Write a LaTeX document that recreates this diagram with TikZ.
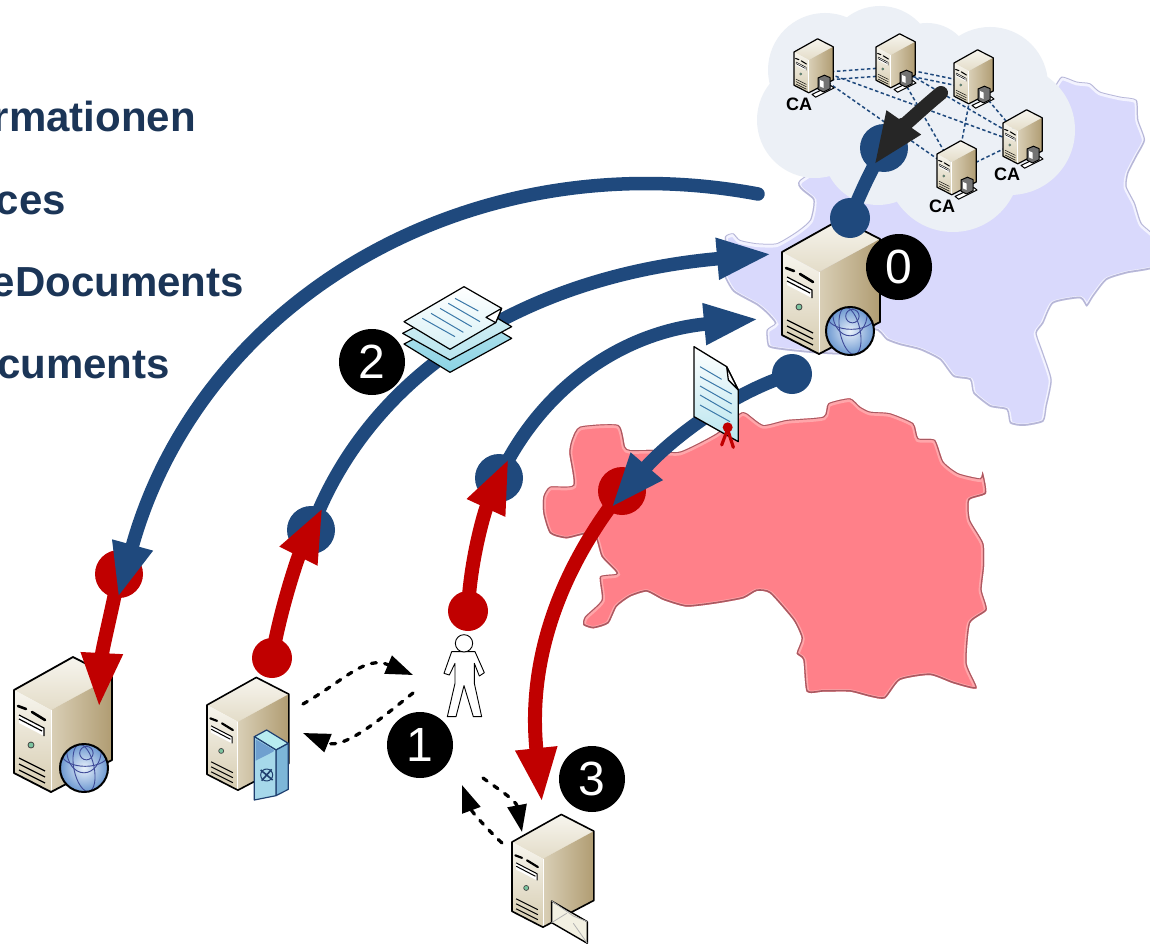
\documentclass[tikz,border=0pt]{standalone}
\usepackage{fontspec}
\setmainfont{Liberation Sans}
\usetikzlibrary{arrows.meta,calc,shapes.geometric}
\definecolor{navy}{HTML}{1F497D}
\definecolor{rd}{HTML}{C00000}
\definecolor{txt}{HTML}{1B3557}
\definecolor{lav}{HTML}{D9D9FC}
\definecolor{lavhi}{HTML}{F3F3FF}
\definecolor{lavlo}{HTML}{A0A0BE}
\definecolor{pnk}{HTML}{FF8089}
\definecolor{pnkhi}{HTML}{FFA6AA}
\definecolor{pnklo}{HTML}{A85A62}
\definecolor{cld}{HTML}{ECF0F6}
\definecolor{dark}{HTML}{262626}
\definecolor{tlight}{HTML}{F7F5EE}
\definecolor{tmid}{HTML}{E3DCC8}
\definecolor{lface}{HTML}{D6CCB0}
\definecolor{rfacea}{HTML}{D9CFB6}
\definecolor{rfaceb}{HTML}{E9E2D0}
\definecolor{rfacec}{HTML}{B09C72}
\definecolor{ledg}{HTML}{7CC4A0}
\definecolor{ballin}{HTML}{E9F1FB}
\definecolor{ballout}{HTML}{6B97D0}
\definecolor{ballln}{HTML}{3E4A98}
\definecolor{safet}{HTML}{B8ECF0}
\definecolor{safef}{HTML}{A6D8EA}
\definecolor{safes}{HTML}{7DB6D8}
\definecolor{safei}{HTML}{6F9FCF}
\definecolor{safeln}{HTML}{1F3F6F}
\definecolor{shta}{HTML}{B9E5EE}
\definecolor{shtb}{HTML}{8BD3E4}
\definecolor{shtc}{HTML}{D8F1F6}
\definecolor{docln}{HTML}{3B78A8}
\definecolor{envf}{HTML}{F2F0E2}
\tikzset{
  bdot/.style={circle,fill=navy,inner sep=0pt,draw=none},
  rdot/.style={circle,fill=rd,inner sep=0pt,draw=none},
  numdot/.style={circle,fill=black,text=white,inner sep=0pt,minimum size=66pt,font=\fontsize{48}{48}\selectfont},
  barc/.style={draw=navy,line width=13.5pt},
  rarc/.style={draw=rd,line width=14pt},
  bhead/.style={-{Triangle[width=38pt,length=55pt]}},
  dasharrow/.style={draw=black,line width=3.3pt,dash pattern=on 5pt off 8.3pt,line cap=round,-{Triangle[width=19pt,length=27pt]}},
  calink/.style={draw=navy,line width=1.5pt,dash pattern=on 3.5pt off 2.5pt},
  calabel/.style={font=\fontsize{18}{18}\selectfont\bfseries,text=black,inner sep=0pt},
  heading/.style={anchor=base east,font=\fontsize{42}{42}\selectfont\bfseries,text=txt,inner sep=0pt},
}
% server tower: #1 name, #2 x, #3 y, #4 scale, #5 line width
\newcommand{\towerbox}[5]{%
\begin{scope}[shift={(#2,#3)},scale=#4,line width=#5pt,line join=round]
  \coordinate (#1) at (48,35);
  \shade[top color=tlight,bottom color=tmid]
    (0,0)--(59,-33)--(98,-13)--(37,20)--cycle;
  \shade[top color=tlight,bottom color=lface] (0,0)--(37,20)--(37,102)--(0,83)--cycle;
  \shade[left color=rfacea,middle color=rfaceb,right color=rfacec] (37,20)--(98,-13)--(98,70)--(37,102)--cycle;
  \draw[white,line width=0.8pt] (37,20)--(37,102);
  \draw[black] (0,0)--(59,-33)--(98,-13)--(98,70)--(37,102)--(0,83)--cycle;
  \draw[black,line width=2.6*#4 pt,line cap=round] (4,16)--(12,19);
  \draw[black,line width=2.6*#4 pt,line cap=round] (18,22)--(31,30);
  \fill[white] (5,25)--(30,38)--(30,46)--(5,33)--cycle;
  \draw[black,line width=1.2*#4 pt] (5,25)--(30,38)--(30,46);
  \draw[black,line width=1.2*#4 pt] (5,29)--(28,41);
  \draw[black!75,fill=ledg,line width=0.8*#4 pt] (17,55) circle (3);
  \draw[black,line width=1.2*#4 pt] (5,68)--(31,81) (5,74)--(31,87) (5,80)--(31,93);
\end{scope}}
% globe
\newcommand{\worldball}[4]{%
\begin{scope}[shift={(#1,#2)},scale=#3]
  \shade[inner color=ballin,outer color=ballout] (0,0) circle (1);
  \begin{scope}
    \clip (0,0) circle (1);
    \draw[ballln,line width=0.9pt] (0.1,-0.62) circle (0.28);
    \draw[ballln,line width=0.9pt,rotate=12] (0,0) ellipse (0.42 and 1);
    \draw[ballln,line width=0.9pt] (0.05,-0.62) ellipse (1 and 0.55);
    \draw[ballln,line width=0.9pt] (0,-0.75) ellipse (0.72 and 0.95);
  \end{scope}
  \draw[black,line width=2pt] (0,0) circle (1);
\end{scope}}
% little workstation of a CA server
\newcommand{\workstation}[2]{%
\begin{scope}[shift={(#1,#2)},scale=0.4,line width=1pt,line join=round]
  \draw[fill=white] (45,106)--(92,84)--(100,90)--(54,113)--cycle;
  \draw[fill=black!55] (60,65)--(76,58)--(90,64)--(90,92)--(74,100)--(60,93)--cycle;
  \fill[white] (65,70)--(74,74)--(74,90)--(65,86)--cycle;
\end{scope}}
\begin{document}
\begin{tikzpicture}[x=1pt,y=-1pt]
\useasboundingbox (0,0) rectangle (1150,944);
\clip (0,0) rectangle (1150,944);
\fill[white] (0,0) rectangle (1150,944);

% headings
\node[heading] (h1) at (196,132) {rmationen};
\node[heading] (h2) at (66,214) {ces};
\node[heading] (h3) at (244,296) {eDocuments};
\node[heading] (h4) at (170,378) {cuments};

% lavender map
\begin{scope}[shift={(700,60)},scale=0.33333]
  \def\lavmap{plot[smooth cycle,tension=0.35] coordinates {(1030,115)(1060,85)(1085,50)(1130,65)(1170,70)(1200,95)(1260,110)(1310,120)(1315,180)(1335,240)(1310,290)(1285,340)(1280,380)(1305,430)(1325,490)(1370,535)(1370,620)(1280,640)(1220,660)(1180,710)(1160,740)(1140,715)(1060,730)(1030,790)(1010,820)(1030,880)(1055,960)(1040,1040)(1030,1085)(970,1098)(930,1090)(920,1050)(870,1040)(820,1000)(810,960)(760,950)(720,900)(660,870)(600,855)(560,840)(525,810)(450,880)(350,880)(250,870)(205,860)(200,810)(225,790)(200,760)(170,735)(100,695)(70,640)(80,590)(75,530)(100,520)(120,540)(170,550)(230,550)(290,515)(330,480)(340,420)(300,360)(600,200)}}
  \fill[lav] \lavmap;
  \begin{scope}
    \clip \lavmap;
    \draw[lavhi,line width=6pt,yshift=-2pt] \lavmap;
    \draw[lavlo!60!lav,line width=2.5pt,yshift=1.5pt] \lavmap;
  \end{scope}
\end{scope}

% pink map
\begin{scope}[shift={(530,390)},scale=0.33333]
  \def\pnkmap{plot[smooth cycle,tension=0.35] coordinates {(40,320)(60,290)(130,285)(118,190)(125,150)(150,110)(265,105)(285,170)(300,180)(370,180)(450,185)(560,130)(630,70)(650,70)(700,105)(770,90)(880,80)(895,40)(960,25)(990,50)(1020,65)(1080,70)(1150,100)(1165,145)(1215,150)(1240,215)(1285,250)(1350,265)(1358,245)(1368,310)(1318,330)(1320,390)(1360,460)(1362,530)(1355,600)(1370,660)(1320,700)(1310,820)(1340,895)(1270,880)(1200,855)(1110,870)(1065,925)(1020,920)(960,905)(880,905)(830,905)(820,810)(800,790)(815,745)(790,690)(720,610)(680,603)(640,625)(560,640)(470,650)(400,630)(350,605)(300,620)(260,650)(235,700)(190,715)(160,705)(165,680)(215,630)(210,560)(260,550)(215,500)(190,430)(110,445)(60,430)(40,370)}}
  \fill[pnk] \pnkmap;
  \begin{scope}
    \clip \pnkmap;
    \draw[pnkhi,line width=6pt,yshift=-2pt] \pnkmap;
    \draw[pnklo,line width=2.5pt,yshift=1pt] \pnkmap;
  \end{scope}
\end{scope}

% cloud
\fill[cld] (825,70) circle (57) (880,60) circle (54) (927,68) circle (45) (990,85) circle (58)
  (1010,130) circle (65) (953,165) circle (67) (878,150) circle (55) (815,120) circle (58) (900,110) circle (60);

% CA anchor points
\coordinate (s1) at (813,72);
\coordinate (s2) at (895,66);
\coordinate (s3) at (973,82);
\coordinate (s4) at (1022,140);
\coordinate (s5) at (956,172);
% CA links
\draw[calink] ([yshift=-1pt]s1) -- ([yshift=-1pt]s2);
\draw[calink] ([yshift=-9pt]s1) -- ([yshift=-9pt]s2);
\draw[calink] ([yshift=-1pt]s2) -- ([yshift=-1pt]s3);
\draw[calink] ([yshift=-7pt]s2) -- ([yshift=-7pt]s3);
\draw[calink] ([yshift=4pt]s1) -- ([yshift=-4pt]s4);
\draw[calink] (s1) -- (s5);
\draw[calink] (s2) -- (s4);
\draw[calink] (s2) -- (s5);
\draw[calink] (s3) -- (s4);
\draw[calink] (s3) -- (s5);
\draw[calink] (s4) -- (s5);

% CA servers
\towerbox{ca1}{794}{52}{0.4}{1.2}\workstation{794}{52}
\towerbox{ca2}{876}{47}{0.4}{1.2}\workstation{876}{47}
\towerbox{ca3}{954}{63}{0.4}{1.2}\workstation{954}{63}
\towerbox{ca4}{1003}{123}{0.4}{1.2}\workstation{1003}{123}
\towerbox{ca5}{937}{154}{0.4}{1.2}\workstation{937}{154}
\node[calabel] (la1) at (799,104) {CA};
\node[calabel] (la2) at (1007,174) {CA};
\node[calabel] (la3) at (942,206) {CA};

% main servers
\towerbox{srv0}{782}{252}{1}{1.8}
\worldball{850}{331}{24}{}
\towerbox{srvw}{14}{690}{1}{1.8}
\worldball{84}{768}{24}{}
\towerbox{srvs}{207}{705}{0.835}{1.6}
\towerbox{srvm}{512}{842}{0.835}{1.6}

% safe
\begin{scope}[shift={(190,630)},scale=0.33333,line width=1.2pt,line join=round,draw=safeln]
  \draw[fill=safet] (193,320)--(230,300)--(295,340)--(258,360)--cycle;
  \draw[fill=safes] (258,360)--(295,340)--(295,478)--(258,497)--cycle;
  \draw[fill=safef] (193,320)--(258,360)--(258,497)--(193,510)--cycle;
  \fill[safei] (197,328)--(252,360)--(250,365)--(197,392)--cycle;
  \draw[line width=1pt] (230,435) circle (18);
  \draw[line width=1.6pt] (212,420)--(248,450) (245,418)--(215,452);
\end{scope}

% mail
\begin{scope}[shift={(190,630)},scale=0.33333,line width=1.4pt,line join=round]
  \draw[fill=envf] (1085,813)--(1192,875)--(1192,940)--(1085,878)--cycle;
  \draw[black!30,line width=0.8pt] (1085,813)--(1150,858)--(1192,875) (1085,878)--(1130,850) (1192,940)--(1150,880);
\end{scope}

% person
\begin{scope}[shift={(430,440)},scale=0.33333,line width=0.9pt,line join=round]
  \draw[fill=white] (65,635)--(135,635)--(163,698)--(148,708)--(133,670)--(133,730)--(155,830)--(130,830)--(102,737)--(78,830)--(52,830)--(75,730)--(75,670)--(58,705)--(42,700)--cycle;
  \draw[fill=white] (102,610) circle (26);
\end{scope}

% connector coordinates
\coordinate (a1s) at (758,194);
\coordinate (a1e) at (118,598);
\coordinate (a2e) at (772,254);
\coordinate (a3e) at (759,319);
\coordinate (a4e) at (611,508);
\coordinate (r1e) at (99,708);
\coordinate (r2e) at (323,507);
\coordinate (r3e) at (509,458);
\coordinate (r4e) at (542,803);
\coordinate (dke) at (874,165);
\coordinate (dks) at (941,93);

% dots
\node[rdot,minimum size=48pt] (rd1) at (119,574) {};
\node[bdot,minimum size=48pt] (bd2) at (311,530) {};
\node[bdot,minimum size=48pt] (bd3) at (499,478) {};
\node[rdot,minimum size=48pt] (rd4) at (622,491) {};
\node[rdot,minimum size=40pt] (rd2) at (272,658) {};
\node[rdot,minimum size=40pt] (rd3) at (468,611) {};
\node[bdot,minimum size=40pt] (bd4) at (792,374) {};
\node[bdot,minimum size=40pt] (bd0) at (850,218) {};
\node[bdot,minimum size=48pt] (bd1) at (884,148) {};

% blue link on top of the CA cloud
\path[barc] (bd0.center) .. controls (860,195) and (868,175) .. (bd1.center);

% red arcs under blue tips
\draw[rarc,bhead] (rd4.center) .. controls (560,570) and (527,660) .. (r4e);
\draw[rarc,bhead] (rd1.center) .. controls (112,610) and (102,650) .. (r1e);
% blue arcs
\draw[barc,bhead,line cap=round] (a1s) .. controls (470,140) and (200,300) .. (a1e);
\draw[barc,bhead] (bd2.center) .. controls (370,370) and (530,275) .. (a2e);
\draw[barc,bhead] (bd3.center) .. controls (540,390) and (620,332) .. (a3e);
\draw[barc,bhead] (bd4.center) .. controls (725,395) and (665,445) .. (a4e);
% red arcs over blue dots
\draw[rarc,bhead] (rd2.center) .. controls (280,610) and (298,557) .. (r2e);
\draw[rarc,bhead] (rd3.center) .. controls (470,560) and (485,510) .. (r3e);

% dark arrow
\draw[draw=dark,line width=14pt,line cap=round,-{Triangle[width=38pt,length=52pt]}] (dks) .. controls (920,110) and (895,135) .. (dke);

% document stack
\begin{scope}[shift={(330,270)},scale=0.33333,line width=1.2pt,line join=round]
  \shade[top color=shta,bottom color=shtb] (222,222)--(410,125)--(545,205)--(360,307)--cycle;
  \draw (222,222)--(410,125)--(545,205)--(360,307)--cycle;
  \shade[top color=shtc,bottom color=shta] (218,190)--(410,90)--(545,170)--(360,270)--cycle;
  \draw (218,190)--(410,90)--(545,170)--(360,270)--cycle;
  \shade[top color=white,bottom color=shtc] (222,155)--(402,50)--(515,115)--(497,158)--(360,238)--cycle;
  \draw (222,155)--(402,50)--(515,115)--(497,158)--(360,238)--cycle;
  \draw[fill=white] (515,115)--(497,158)--(468,142)--cycle;
  \draw[docln,line width=1pt] (277,145)--(375,200) (303,130)--(400,187) (330,115)--(425,170) (355,100)--(450,155) (375,85)--(445,123);
\end{scope}

% certificate
\begin{scope}[shift={(680,200)},scale=0.33333,line width=1.3pt,line join=round]
  \shade[top color=white,bottom color=shta] (42,440)--(140,500)--(175,570)--(175,725)--(42,650)--cycle;
  \draw (42,440)--(140,500)--(175,570)--(175,725)--(42,650)--cycle;
  \draw[fill=white] (140,500)--(145,540)--(175,570)--cycle;
  \draw[docln,line width=1pt] (60,500)--(125,538) (60,530)--(155,582) (60,558)--(155,612) (60,585)--(155,640) (60,615)--(150,665);
  \draw[rd,line width=3.2pt,line cap=round] (140,695)--(125,735) (145,695)--(160,742);
  \fill[rd] (143,682) circle (15);
\end{scope}

% dashed arrows
\coordinate (d1s) at (303,704);
\coordinate (d1e) at (413,675);
\coordinate (d2s) at (413,693);
\coordinate (d2e) at (303,733);
\coordinate (d3s) at (483,778);
\coordinate (d3e) at (522,832);
\coordinate (d4s) at (502,843);
\coordinate (d4e) at (462,785);
\draw[dasharrow] (d1s) .. controls (345,680) and (365,655) .. (d1e);
\draw[dasharrow] (d2s) .. controls (385,715) and (345,750) .. (d2e);
\draw[dasharrow] (d3s) .. controls (495,787) and (516,800) .. (d3e);
\draw[dasharrow] (d4s) .. controls (488,830) and (472,812) .. (d4e);

% numbers
\node[numdot] (n0) at (899,267) {0};
\node[numdot] (n2) at (372,362) {2};
\node[numdot] (n1) at (420,745) {1};
\node[numdot] (n3) at (592,779) {3};
\end{tikzpicture}
\end{document}
